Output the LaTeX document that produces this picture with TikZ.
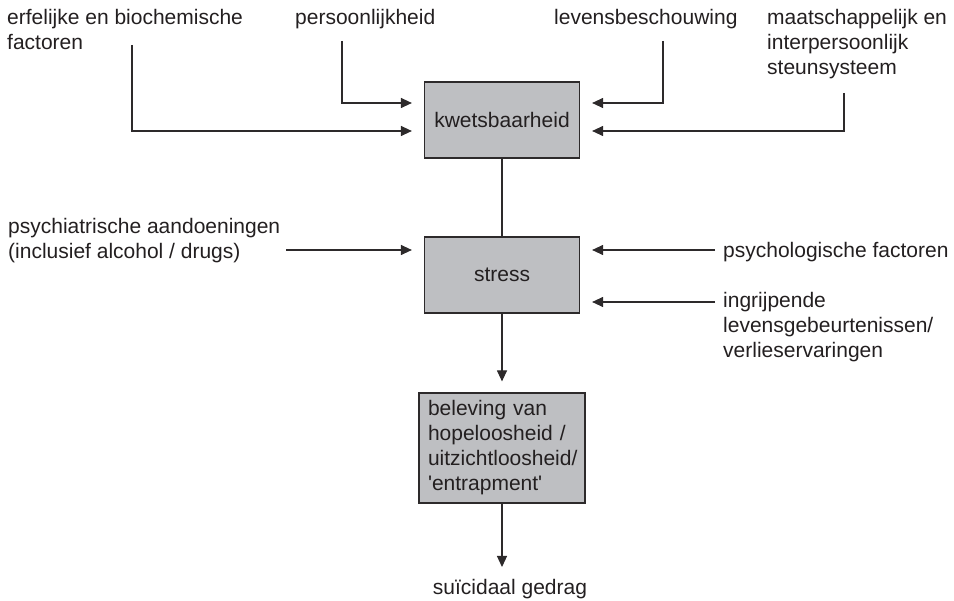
\documentclass[tikz,border=0pt]{standalone}
\usepackage{fontspec}
\setmainfont{Liberation Sans}
\usepackage{xcolor}
\usetikzlibrary{arrows.meta}
\definecolor{boxgray}{RGB}{190,191,194}
\definecolor{linegray}{RGB}{45,42,43}
\definecolor{textgray}{RGB}{35,31,32}

\tikzset{
	box/.style={draw=linegray, fill=boxgray, line width=1.2pt, minimum width=155pt, minimum height=76pt, inner sep=0pt},
	lbl/.style={inner sep=0pt, align=left, anchor=north west},
	pijl/.style={-{Triangle[length=11pt,width=10pt]}, line width=1.2pt, draw=linegray}
}

\begin{document}
\begin{tikzpicture}[x=1pt,y=-1pt,font=\fontsize{21}{25}\selectfont,text=textgray]
	\useasboundingbox (0,0) rectangle (954,601);

	% boxes
\node[box] (kwets) at (502,120) {kwetsbaarheid};
\node[box] (stress) at (502,275) {stress};
\node[box, minimum width=166pt, minimum height=110pt, text width=148pt, align=left, inner xsep=9pt] (belev) at (502,448) {beleving van\\hopeloosheid /\\uitzichtloosheid/\\\textquotesingle entrapment\textquotesingle};

	% texts
\node[lbl] (erf) at (7,9) {erfelijke en biochemische\\factoren};
\node[lbl] (pers) at (295,9) {persoonlijkheid};
\node[lbl] (levens) at (554,9) {levensbeschouwing};
\node[lbl] (maat) at (767,9) {maatschappelijk en\\interpersoonlijk\\steunsysteem};
\node[lbl] (psychiatr) at (8,218) {psychiatrische aandoeningen\\(inclusief alcohol / drugs)};
\node[lbl] (psychol) at (723,242) {psychologische factoren};
\node[lbl] (ingrijp) at (723,292) {ingrijpende\\levensgebeurtenissen/\\verlieservaringen};
\node[inner sep=0pt, anchor=north] (gedrag) at (510,579) {suïcidaal gedrag};

	% start points of the connectors
\coordinate (erf-uit) at (132,45);
\coordinate (pers-uit) at (342,41);
\coordinate (levens-uit) at (663,41);
\coordinate (maat-uit) at (844,93);
\coordinate (psychiatr-uit) at (286,250);
\coordinate (psychol-uit) at (715,250);
\coordinate (ingrijp-uit) at (715,302);

\draw[pijl] (erf-uit) |- ([xshift=-12pt,yshift=-11pt]kwets.west);
\draw[pijl] (pers-uit) |- ([xshift=-12pt,yshift=17pt]kwets.west);
\draw[pijl] (levens-uit) |- ([xshift=12pt,yshift=17pt]kwets.east);
\draw[pijl] (maat-uit) |- ([xshift=12pt,yshift=-11pt]kwets.east);
\draw[line width=1.2pt, draw=linegray] (kwets.south) -- (stress.north);
\draw[pijl] (psychiatr-uit) -- ([xshift=-12pt,yshift=25pt]stress.west);
\draw[pijl] (psychol-uit) -- ([xshift=12pt,yshift=25pt]stress.east);
\draw[pijl] (ingrijp-uit) -- ([xshift=12pt,yshift=-27pt]stress.east);
\draw[pijl] (stress.south) -- ([yshift=11pt]belev.north);
\draw[pijl] (belev.south) -- ([yshift=12pt]belev.south |- gedrag.north);
\end{tikzpicture}
\end{document}
